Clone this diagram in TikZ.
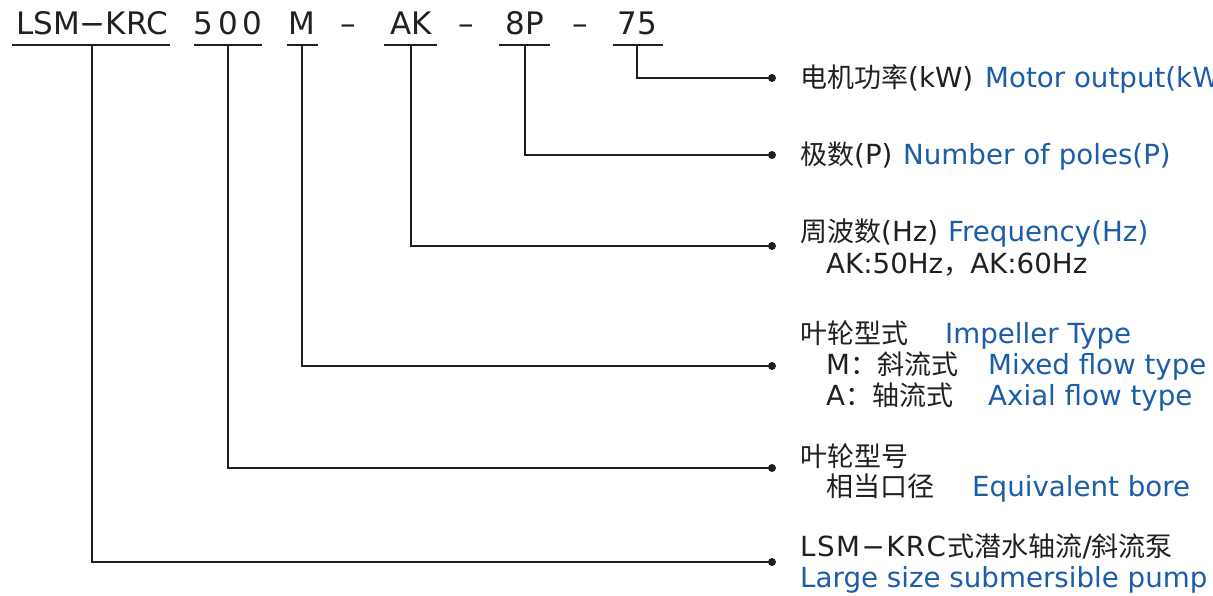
\documentclass[tikz,border=0pt]{standalone}
\usepackage{fontspec}
\setmainfont{DejaVu Sans}
\newfontfamily\cjk[Scale=0.975]{Noto Sans CJK SC}
\definecolor{ink}{RGB}{35,31,32}
\definecolor{blu}{RGB}{27,93,168}
\newcommand{\lsgap}{\kern1.5pt}
\begin{document}
\begin{tikzpicture}[x=1pt,y=-1pt,
 code/.style={anchor=base,inner sep=0pt,text=ink,font=\fontsize{31}{31}\selectfont},
 lbl/.style={anchor=base west,inner sep=0pt,text=ink,font=\fontsize{27.7}{30}\selectfont},
 en/.style={lbl,text=blu},
 uline/.style={draw=ink,line width=1.6pt},
 conn/.style={draw=ink,line width=1.3pt},
 dotnode/.style={circle,fill=ink,inner sep=0pt,minimum size=8pt}]
\useasboundingbox (0,0) rectangle (1213,596);
% code line
\node[code] (cLSM) at (92,35) {LSM−KRC};
\node[code] (c500) at (228,35) {5\kern5pt0\kern5pt0};
\node[code] (cM) at (302,35) {M};
\node[code] (s1) at (348,35) {–};
\node[code] (cAK) at (411,35) {AK};
\node[code] (s2) at (466,35) {–};
\node[code] (c8P) at (525,35) {8P};
\node[code] (s3) at (580,35) {–};
\node[code] (c75) at (637,35) {75};
% underlines
\draw[uline] (12,45) -- (170,45);
\draw[uline] (194,45) -- (262,45);
\draw[uline] (287,45) -- (318,45);
\draw[uline] (384,45) -- (437,45);
\draw[uline] (499,45) -- (550,45);
\draw[uline] (613,45) -- (663,45);
\coordinate (u6) at (92,45);
\coordinate (u5) at (228,45);
\coordinate (u4) at (302,45);
\coordinate (u3) at (411,45);
\coordinate (u2) at (525,45);
\coordinate (u1) at (637,45);
% dots
\node[dotnode] (d1) at (772,78) {};
\node[dotnode] (d2) at (772,155) {};
\node[dotnode] (d3) at (772,246) {};
\node[dotnode] (d4) at (772,366) {};
\node[dotnode] (d5) at (772,468) {};
\node[dotnode] (d6) at (772,562) {};
% connectors
\draw[conn] (u1) |- (d1.center);
\draw[conn] (u2) |- (d2.center);
\draw[conn] (u3) |- (d3.center);
\draw[conn] (u4) |- (d4.center);
\draw[conn] (u5) |- (d5.center);
\draw[conn] (u6) |- (d6.center);
% labels
\node[lbl] (t1) at (800,88) {{\cjk 电机功率}(kW)};
\node[en] (e1) at (985,88) {Motor output(kW)};
\node[lbl] (t2) at (800,165) {{\cjk 极数}(P)};
\node[en] (e2) at (903,165) {Number of poles(P)};
\node[lbl] (t3) at (800,241) {{\cjk 周波数}(Hz)};
\node[en] (e3) at (948,241) {Frequency(Hz)};
\node[lbl] (t3b) at (826,273) {AK:50Hz{\cjk ，}AK:60Hz};
\node[lbl] (t4) at (800,343) {\cjk 叶轮型式};
\node[en] (e4) at (945,343) {Impeller Type};
\node[lbl] (t4b) at (826,374) {M{\cjk ：斜流式}};
\node[en] (e4b) at (988,374) {Mixed flow type};
\node[lbl] (t4c) at (826,405) {A{\cjk ：轴流式}};
\node[en] (e4c) at (988,405) {Axial flow type};
\node[lbl] (t5) at (800,466) {\cjk 叶轮型号};
\node[lbl] (t5b) at (826,496) {\cjk 相当口径};
\node[en] (e5) at (972,496) {Equivalent bore};
\node[lbl] (t6) at (800,556) {L\lsgap S\lsgap M\lsgap−\lsgap K\lsgap R\lsgap C\lsgap{\cjk 式潜水轴流}/{\cjk 斜流泵}};
\node[en] (e6) at (800,587) {Large size submersible pump};
\end{tikzpicture}
\end{document}
